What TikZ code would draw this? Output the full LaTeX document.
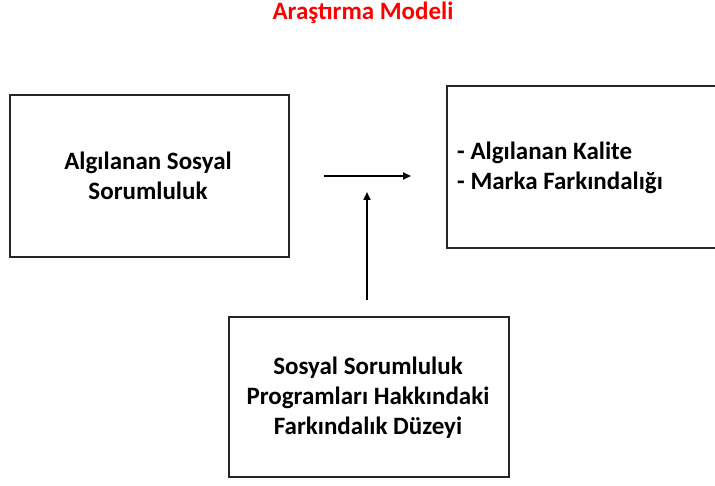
\documentclass[tikz,border=0pt]{standalone}
\usepackage{fontspec}
\setmainfont{Carlito}
\usetikzlibrary{arrows.meta}
\begin{document}
\begin{tikzpicture}[x=1pt,y=-1pt,
  boxstyle/.style={draw=black!85,line width=1.1pt},
  boxtext/.style={font=\bfseries\fontsize{25}{30}\selectfont,align=center,inner sep=0pt},
  arr/.style={line width=1.8pt,-{Triangle[length=8pt,width=7pt]}}]
\useasboundingbox (0,0) rectangle (715,486);
\begin{scope}
\clip (0,0) rectangle (715,486);
\draw[boxstyle] (10,95) rectangle (289,257);
\draw[boxstyle] (447,86) rectangle (725,248);
\draw[boxstyle] (229,317) rectangle (509,477);
\end{scope}
\node[font=\bfseries\fontsize{25}{30}\selectfont,text=red,inner sep=0pt] (title) at (363,13) {Araştırma Modeli};
\node[boxtext] (b1) at (148,176) {Algılanan Sosyal\\Sorumluluk};
\node[boxtext,align=left,anchor=west] (b2) at (457,168) {- Algılanan Kalite\\- Marka Farkındalığı};
\node[boxtext] (b3) at (368,398) {Sosyal Sorumluluk\\Programları Hakkındaki\\Farkındalık Düzeyi};
\coordinate (h1) at (324,176);
\coordinate (h2) at (411,176);
\coordinate (v1) at (367,300);
\coordinate (v2) at (367,192);
\draw[arr] (h1) -- (h2);
\draw[arr] (v1) -- (v2);
\end{tikzpicture}
\end{document}
